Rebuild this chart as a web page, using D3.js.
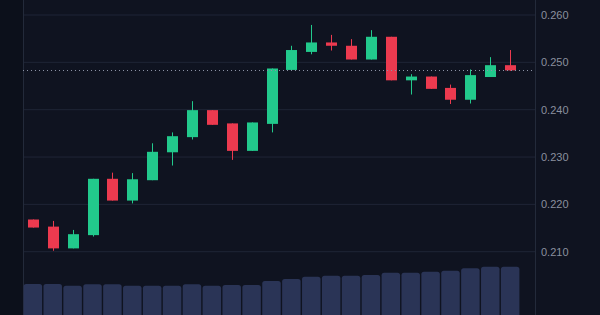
<!DOCTYPE html>
<html>
<head>
<meta charset="utf-8">
<script src="https://cdn.jsdelivr.net/npm/d3@7"></script>
<style>
  body { margin: 0; background: #0f1320; overflow: hidden; }
  svg { display: block; }
</style>
</head>
<body>
<svg id="chart" width="600" height="315"></svg>
<script>
// candle data
let days = d3.range(1, 26).map(d => 'D' + d)
let open  = [0.2168, 0.2153, 0.2107, 0.2135, 0.2254, 0.2208, 0.2251, 0.2310, 0.2342, 0.2399, 0.2371, 0.2313, 0.2370, 0.2484, 0.2522, 0.2542, 0.2535, 0.2506, 0.2554, 0.2462, 0.2470, 0.2446, 0.2421, 0.2469, 0.2494]
let close = [0.2151, 0.2107, 0.2137, 0.2254, 0.2208, 0.2253, 0.2311, 0.2344, 0.2399, 0.2368, 0.2313, 0.2373, 0.2487, 0.2526, 0.2542, 0.2535, 0.2506, 0.2554, 0.2462, 0.2470, 0.2444, 0.2421, 0.2473, 0.2494, 0.2483]
let high  = [0.2168, 0.2165, 0.2146, 0.2254, 0.2267, 0.2266, 0.2329, 0.2352, 0.2418, 0.2399, 0.2371, 0.2373, 0.2487, 0.2535, 0.2579, 0.2558, 0.2549, 0.2568, 0.2554, 0.2475, 0.2470, 0.2453, 0.2485, 0.2511, 0.2526]
let low   = [0.2151, 0.2102, 0.2107, 0.2132, 0.2208, 0.2202, 0.2251, 0.2282, 0.2337, 0.2368, 0.2294, 0.2313, 0.2352, 0.2484, 0.2517, 0.2525, 0.2506, 0.2506, 0.2462, 0.2432, 0.2444, 0.2412, 0.2413, 0.2469, 0.2482]
let volume = [31, 31, 29.3, 30.7, 30.7, 29.3, 29.3, 29.3, 30.7, 29.3, 30, 30, 34, 36, 38.3, 39.3, 39.3, 40, 42.3, 42.3, 43.3, 44.3, 46.7, 48.3, 48.3]
let priceTicks = [0.210, 0.220, 0.230, 0.240, 0.250, 0.260]

let svg = d3.select('svg#chart')
let green = '#22c98c'
let red = '#ec3a4f'

// scales
let x = d3.scaleBand().domain(days).range([23, 520]).paddingInner(0.07).paddingOuter(0.03)
let y = d3.scaleLinear().domain([0.210, 0.260]).range([251.7, 15])
let yVol = d3.scaleLinear().domain([0, 50]).range([315, 265])
let right = 535

svg.append('rect').attr('width', 600).attr('height', 315).attr('fill', '#0f1320')
svg.append('rect').attr('width', 23).attr('height', 315).attr('fill', '#0c101b')

// grid lines
svg.append('g').selectAll('line')
    .data(priceTicks)
    .join('line')
    .attr('x1', 23).attr('x2', right)
    .attr('y1', d => y(d)).attr('y2', d => y(d))
    .attr('stroke', '#1f2536')
    .attr('stroke-width', 1)

// left border
svg.append('line').attr('x1', 23.5).attr('x2', 23.5).attr('y1', 0).attr('y2', 315)
    .attr('stroke', '#232a3a')

// volume bars with rounded top
let r = 2.5
svg.append('g').selectAll('path')
    .data(days)
    .join('path')
    .attr('fill', '#2a3456')
    .attr('d', (d, i) => {
        let x0 = x(d), w = x.bandwidth(), top = yVol(volume[i]), bot = 315
        return 'M' + x0 + ',' + bot + 'V' + (top + r) + 'Q' + x0 + ',' + top + ' ' + (x0 + r) + ',' + top +
            'H' + (x0 + w - r) + 'Q' + (x0 + w) + ',' + top + ' ' + (x0 + w) + ',' + (top + r) + 'V' + bot + 'Z'
    })

// candles
let cx = d => x(d) + x.bandwidth() / 2
let candles = svg.append('g').selectAll('g')
    .data(days)
    .join('g')
    .attr('fill', (d, i) => close[i] >= open[i] ? green : red)
    .attr('stroke', (d, i) => close[i] >= open[i] ? green : red)

candles.append('line')
    .attr('x1', d => Math.round(cx(d)) + 0.5).attr('x2', d => Math.round(cx(d)) + 0.5)
    .attr('y1', (d, i) => y(high[i])).attr('y2', (d, i) => y(low[i]))
    .attr('stroke-width', 1)

candles.append('rect')
    .attr('stroke', 'none')
    .attr('x', d => Math.round(cx(d)) + 0.5 - 5.5)
    .attr('width', 11)
    .attr('y', (d, i) => y(Math.max(open[i], close[i])))
    .attr('height', (d, i) => Math.max(1, Math.abs(y(open[i]) - y(close[i]))))

// last price dotted line
let last = close[close.length - 1]
svg.append('line')
    .attr('x1', 23).attr('x2', right)
    .attr('y1', Math.round(y(last)) + 0.5).attr('y2', Math.round(y(last)) + 0.5)
    .attr('stroke', '#8c93a6')
    .attr('stroke-width', 1)
    .attr('stroke-dasharray', '1,3')

// right price axis
let axis = svg.append('g')
    .attr('transform', 'translate(' + right + ',0)')
    .call(d3.axisRight(y).tickValues(priceTicks).tickFormat(d3.format('.3f')).tickSize(0).tickPadding(6))
axis.select('.domain').remove()
axis.append('line').attr('x1', 0.5).attr('x2', 0.5).attr('y1', 0).attr('y2', 315).attr('stroke', '#232a3a')
axis.selectAll('text')
    .attr('fill', '#8a909e')
    .style('font-family', '"Liberation Sans", Arial, sans-serif')
    .style('font-size', '11px')
</script>
</body>
</html>
